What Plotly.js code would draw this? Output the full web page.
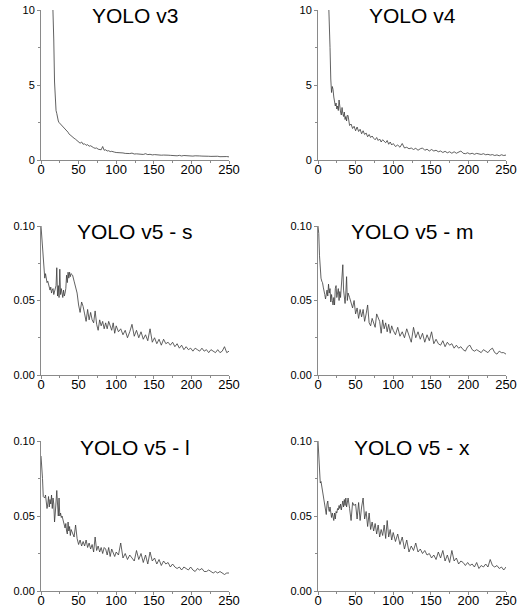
<!DOCTYPE html>
<html>
<head>
<meta charset="utf-8">
<script src="https://cdn.plot.ly/plotly-3.0.1.min.js"></script>
<style>html,body{margin:0;padding:0;background:#fff;}#chart{width:525px;height:610px;}</style>
</head>
<body>
<div id="chart"></div>
<script>
// Epoch positions (dense early, sparser later)
const epochs = [0,1,2,3,4,5,6,7,8,9,10,11,12,13,14,15,16,17,18,19,20,21,22,23,24,25,26,27,28,29,30,31,32,33,34,35,36,37,38,39,40,
  42,44,46,48,50,52,54,56,58,60,62,64,66,68,70,72,74,76,78,80,82,84,86,88,90,92,94,96,98,100,
  103,106,109,112,115,118,121,124,127,130,133,136,139,142,145,148,151,154,157,160,163,166,169,172,175,178,181,184,187,190,
  193,196,199,202,205,208,211,214,217,220,223,226,229,232,235,238,241,244,247,250];

const titles = ["YOLO v3","YOLO v4","YOLO v5 - s","YOLO v5 - m","YOLO v5 - l","YOLO v5 - x"];

const yolov3 = [95,80,68,58,50,44,38,33,29,25,22,19,17,15,13.5,12,10.5,8.0,5.2,3.6,3.3,3.1,2.7,2.6,2.5,2.45,2.4,2.35,2.3,2.25,2.2,2.15,2.05,2.0,1.95,1.9,1.85,1.75,1.7,1.65,1.6,
  1.52,1.45,1.38,1.3,1.22,1.12,1.2,1.05,1.08,0.98,1.02,0.92,0.95,0.85,0.82,0.78,0.8,0.72,0.7,0.68,0.9,0.65,0.68,0.6,0.62,0.56,0.58,0.53,0.52,0.5,
  0.5,0.46,0.47,0.44,0.42,0.43,0.46,0.4,0.41,0.38,0.4,0.37,0.42,0.36,0.38,0.34,0.36,0.33,0.35,0.32,0.33,0.3,0.32,0.31,0.29,0.3,0.28,0.31,0.27,0.3,
  0.28,0.27,0.29,0.26,0.28,0.25,0.27,0.26,0.24,0.27,0.25,0.24,0.26,0.23,0.25,0.22,0.24,0.22,0.23,0.21];

const yolov4 = [90,75,62,52,44,38,32,28,24,21,18,16,14,12.5,11,10.2,7.5,5.4,4.5,4.9,4.7,4.2,3.9,3.6,3.8,3.4,3.6,3.3,4.0,3.4,3.2,3.0,3.5,3.1,2.9,3.2,2.7,2.9,2.6,3.0,2.95,
  2.3,2.4,2.1,2.25,1.95,2.2,1.9,2.05,1.75,1.95,1.7,1.8,1.55,1.7,1.5,1.6,1.45,1.35,1.5,1.3,1.4,1.2,1.35,1.25,1.15,1.3,1.05,1.2,1.0,1.1,
  0.9,1.0,0.85,1.1,0.8,0.85,0.75,0.8,0.7,0.78,0.65,0.75,0.8,0.65,0.72,0.6,0.7,0.6,0.65,0.55,0.6,0.5,0.58,0.48,0.55,0.45,0.55,0.45,0.5,0.6,
  0.45,0.42,0.48,0.4,0.45,0.38,0.44,0.4,0.37,0.42,0.35,0.38,0.33,0.36,0.3,0.34,0.28,0.35,0.3,0.33];

const yolov5s = [0.100,0.094,0.085,0.077,0.070,0.065,0.068,0.066,0.062,0.063,0.060,0.058,0.057,0.059,0.055,0.057,0.058,0.054,0.056,0.058,0.060,0.072,0.053,0.060,0.052,0.071,0.054,0.058,0.055,0.052,0.057,0.053,0.055,0.058,0.067,0.062,0.069,0.065,0.069,0.066,0.068,
  0.067,0.063,0.058,0.055,0.047,0.042,0.049,0.046,0.041,0.036,0.044,0.037,0.042,0.037,0.035,0.043,0.034,0.030,0.037,0.033,0.036,0.031,0.035,0.031,0.036,0.032,0.030,0.035,0.028,0.033,
  0.029,0.031,0.027,0.030,0.025,0.029,0.034,0.026,0.030,0.025,0.029,0.024,0.027,0.023,0.031,0.022,0.025,0.021,0.024,0.020,0.024,0.021,0.022,0.020,0.022,0.019,0.021,0.018,0.020,0.017,
  0.019,0.017,0.018,0.016,0.018,0.017,0.016,0.018,0.016,0.017,0.015,0.017,0.016,0.015,0.017,0.015,0.016,0.019,0.015,0.016];

const yolov5m = [0.100,0.095,0.080,0.070,0.065,0.063,0.062,0.059,0.057,0.054,0.051,0.055,0.057,0.053,0.061,0.055,0.058,0.049,0.054,0.050,0.047,0.052,0.047,0.058,0.060,0.052,0.055,0.058,0.050,0.056,0.052,0.060,0.065,0.074,0.057,0.052,0.048,0.055,0.066,0.050,0.055,
  0.052,0.049,0.045,0.050,0.041,0.045,0.038,0.044,0.039,0.044,0.036,0.041,0.047,0.035,0.033,0.038,0.034,0.032,0.041,0.038,0.036,0.028,0.037,0.031,0.035,0.029,0.034,0.028,0.033,0.030,
  0.027,0.032,0.026,0.029,0.025,0.031,0.026,0.022,0.032,0.025,0.029,0.024,0.028,0.022,0.027,0.023,0.029,0.021,0.024,0.021,0.020,0.023,0.019,0.022,0.020,0.021,0.018,0.020,0.018,0.019,
  0.017,0.016,0.019,0.020,0.017,0.016,0.017,0.016,0.015,0.017,0.016,0.015,0.017,0.018,0.015,0.014,0.016,0.015,0.015,0.014];

const yolov5l = [0.090,0.085,0.075,0.063,0.062,0.062,0.064,0.060,0.055,0.058,0.063,0.056,0.061,0.058,0.064,0.055,0.062,0.058,0.046,0.052,0.062,0.067,0.058,0.050,0.062,0.050,0.052,0.049,0.050,0.047,0.046,0.044,0.042,0.045,0.040,0.038,0.046,0.040,0.043,0.037,0.041,
  0.039,0.036,0.044,0.035,0.031,0.034,0.030,0.033,0.030,0.034,0.029,0.032,0.028,0.031,0.026,0.036,0.027,0.030,0.026,0.029,0.025,0.029,0.028,0.024,0.029,0.023,0.028,0.025,0.023,0.026,
  0.024,0.032,0.022,0.025,0.021,0.024,0.022,0.020,0.027,0.021,0.025,0.019,0.024,0.018,0.026,0.020,0.022,0.018,0.021,0.017,0.020,0.018,0.019,0.016,0.018,0.016,0.015,0.016,0.014,0.016,
  0.015,0.014,0.016,0.014,0.013,0.015,0.014,0.015,0.013,0.013,0.014,0.013,0.012,0.013,0.012,0.013,0.012,0.011,0.012,0.012];

const yolov5x = [0.100,0.088,0.075,0.072,0.073,0.070,0.066,0.064,0.060,0.057,0.054,0.051,0.058,0.060,0.055,0.053,0.056,0.052,0.049,0.052,0.050,0.047,0.052,0.048,0.053,0.052,0.055,0.054,0.057,0.055,0.058,0.054,0.057,0.060,0.056,0.061,0.057,0.062,0.056,0.060,0.062,
  0.055,0.047,0.059,0.057,0.058,0.048,0.059,0.047,0.056,0.062,0.048,0.053,0.043,0.052,0.041,0.046,0.040,0.045,0.038,0.044,0.036,0.041,0.037,0.044,0.035,0.047,0.036,0.041,0.034,0.039,
  0.033,0.038,0.031,0.036,0.028,0.034,0.026,0.030,0.027,0.032,0.026,0.028,0.025,0.027,0.024,0.025,0.022,0.024,0.021,0.026,0.022,0.027,0.020,0.024,0.019,0.027,0.020,0.022,0.018,0.020,
  0.019,0.017,0.019,0.017,0.018,0.016,0.019,0.015,0.017,0.016,0.018,0.016,0.021,0.017,0.016,0.017,0.015,0.016,0.014,0.016];

const series = [yolov3, yolov4, yolov5s, yolov5m, yolov5l, yolov5x];
const yTop = [10, 10, 0.1, 0.1, 0.1, 0.1];
const yTicks = [[0,5,10],[0,5,10],[0,0.05,0.1],[0,0.05,0.1],[0,0.05,0.1],[0,0.05,0.1]];
const yTickText = [["0","5","10"],["0","5","10"],["0.00","0.05","0.10"],["0.00","0.05","0.10"],["0.00","0.05","0.10"],["0.00","0.05","0.10"]];
const xTicks = [0,50,100,150,200,250];

const W = 525, H = 610;
const colX = [[41,229],[318,506]];
const rowY = [[10,160],[226,375],[441,591]];
const titleY = [15,232,447];
const titleX = [135,412];

const font = "Liberation Sans, Arial, sans-serif";
const traces = [];
const layout = {
  width: W, height: H,
  margin: {l:0, r:0, t:0, b:0},
  paper_bgcolor: "#fff", plot_bgcolor: "#fff",
  showlegend: false,
  font: {family: font, color: "#000"},
  annotations: []
};

series.forEach((vals, i) => {
  const r = Math.floor(i/2), c = i % 2;
  const ax = i === 0 ? "" : String(i+1);
  traces.push({
    x: epochs, y: vals, type: "scatter", mode: "lines",
    xaxis: "x"+ax, yaxis: "y"+ax,
    line: {color: "#3a3a3a", width: 0.8},
    hoverinfo: "skip"
  });
  layout["xaxis"+ax] = {
    domain: [colX[c][0]/W, colX[c][1]/W],
    anchor: "y"+ax,
    range: [0, 250],
    showgrid: false, zeroline: false,
    showline: true, linecolor: "#8a8a8a", linewidth: 1,
    ticks: "outside", ticklen: 3, tickcolor: "#8a8a8a", tickwidth: 1,
    ticklabelstandoff: -6,
    tickvals: xTicks, ticktext: xTicks.map(String),
    tickfont: {size: 13, family: font, color: "#000"},
    minor: {ticks: "outside", ticklen: 2, tickcolor: "#8a8a8a", dtick: 25, showgrid: false},
    fixedrange: true
  };
  layout["yaxis"+ax] = {
    domain: [1 - rowY[r][1]/H, 1 - rowY[r][0]/H],
    anchor: "x"+ax,
    range: [0, yTop[i]],
    showgrid: false, zeroline: false,
    showline: true, linecolor: "#8a8a8a", linewidth: 1,
    ticks: "outside", ticklen: 3, tickcolor: "#8a8a8a", tickwidth: 1,
    tickvals: yTicks[i], ticktext: yTickText[i],
    tickfont: {size: 11, family: font, color: "#000"},
    minor: {ticks: "outside", ticklen: 2, tickcolor: "#8a8a8a", dtick: yTop[i]/4, showgrid: false},
    fixedrange: true
  };
  layout.annotations.push({
    text: titles[i], xref: "paper", yref: "paper",
    x: titleX[c]/W, y: 1 - titleY[r]/H,
    xanchor: "center", yanchor: "middle", showarrow: false,
    font: {size: 21, family: font, color: "#000"}
  });
});

Plotly.newPlot("chart", traces, layout, {staticPlot: true, displayModeBar: false});
</script>
</body>
</html>
